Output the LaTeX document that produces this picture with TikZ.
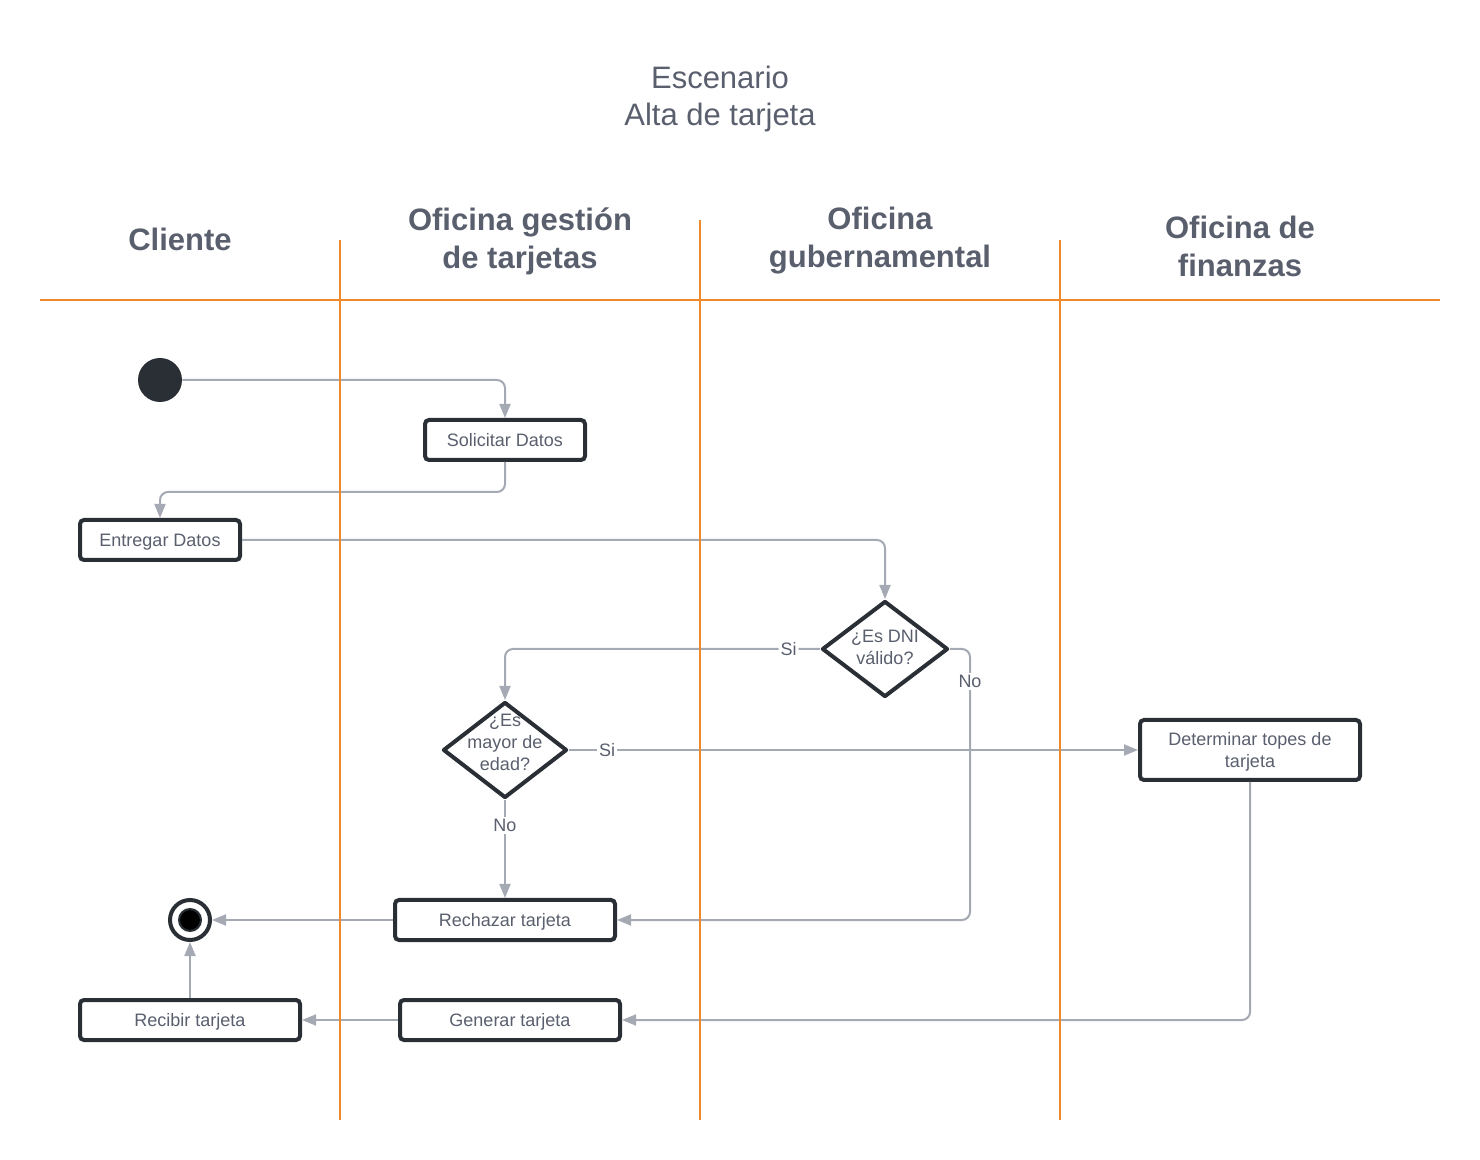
\documentclass[tikz,border=0pt]{standalone}
\usepackage{fontspec}
\setmainfont{Liberation Sans}
\usepackage{xcolor}
\usetikzlibrary{arrows.meta,shapes.geometric}

\definecolor{texto}{HTML}{5A5F6E}
\definecolor{borde}{HTML}{2A2E35}
\definecolor{linea}{HTML}{A5A9B3}
\definecolor{naranja}{HTML}{EC8A2C}

\tikzset{
  actividad/.style={draw=borde, line width=2pt, rounded corners=2pt, fill=white, text=texto,
    font=\fontsize{9}{11}\selectfont, align=center, inner sep=0pt, text depth=0pt, minimum height=20pt},
  decision/.style={diamond, draw=borde, line width=2pt, line join=round, fill=white,
    inner sep=0pt, minimum width=63pt, minimum height=48pt},
  pregunta/.style={text=texto, font=\fontsize{9}{11}\selectfont, align=center},
  flecha/.style={draw=linea, line width=1pt, rounded corners=4pt, -{Triangle[length=7pt,width=5.5pt]}},
  etiqueta/.style={fill=white, text=texto, font=\fontsize{9}{11}\selectfont, inner sep=1pt},
  carril/.style={draw=naranja, line width=1pt},
  titulo/.style={text=texto, font=\fontsize{15.5}{18.5}\selectfont, align=center},
  encabezado/.style={text=texto, font=\bfseries\fontsize{15.5}{19}\selectfont, align=center}
}

\begin{document}
\begin{tikzpicture}[x=0.5pt,y=-0.5pt]
\useasboundingbox (0,0) rectangle (1480,1160);

% titulo y carriles
\node[titulo] (titulo) at (720,99) {Escenario\\Alta de tarjeta};
\node[encabezado] (cliente) at (180,239) {Cliente};
\node[encabezado] (gestion) at (520,241) {Oficina gestión\\de tarjetas};
\node[encabezado] (gobierno) at (880,241) {Oficina\\gubernamental};
\node[encabezado] (finanzas) at (1240,246) {Oficina de\\finanzas};

% nodos
\node[circle, fill=borde, minimum size=22pt, inner sep=0pt] (inicio) at (160,380) {};
\node[actividad, minimum width=80pt] (solicitar) at (505,440) {Solicitar Datos};
\node[actividad, minimum width=80pt] (entregar) at (160,540) {Entregar Datos};
\node[decision, label={[pregunta, yshift=1pt]center:{¿Es DNI\\válido?}}] (dni) at (885,649) {};
\node[decision, minimum width=62pt, label={[pregunta, yshift=4pt]center:{¿Es\\mayor de\\edad?}}] (mayor) at (505,750) {};
\node[actividad, minimum width=110pt, minimum height=30pt] (topes) at (1250,750) {Determinar topes de\\tarjeta};
\node[actividad, minimum width=110pt] (rechazar) at (505,920) {Rechazar tarjeta};
\node[actividad, minimum width=110pt] (generar) at (510,1020) {Generar tarjeta};
\node[actividad, minimum width=110pt] (recibir) at (190,1020) {Recibir tarjeta};
\node[circle, draw=borde, line width=2pt, fill=white, minimum size=20pt, inner sep=0pt,
  path picture={\fill[black, draw=borde, line width=1pt] (path picture bounding box.center) circle (5.5pt);}] (fin) at (190,920) {};

% flechas
\draw[flecha] (inicio.east) -| (solicitar.north);
\draw[flecha] (solicitar.south) -- ++(0,30) -| (entregar.north);
\draw[flecha] (entregar.east) -| (dni.north);
\draw[flecha] (dni.west) -| node[etiqueta, pos=0.05]{Si} (mayor.north);
\draw[flecha] (dni.east) -- ++(20,0) |- node[etiqueta, pos=0.06]{No} (rechazar.east);
\draw[flecha] (mayor.east) -- node[etiqueta, pos=0.067]{Si} (topes.west);
\draw[flecha] (mayor.south) -- node[etiqueta, pos=0.26]{No} (rechazar.north);
\draw[flecha] (rechazar.west) -- (fin.east);
\draw[flecha] (topes.south) |- (generar.east);
\draw[flecha] (generar.west) -- (recibir.east);
\draw[flecha] (recibir.north) -- (fin.south);

\draw[carril] (40,300) -- (1440,300);
\foreach \x/\y in {340/240, 700/220, 1060/240}
  \draw[carril] (\x,\y) -- (\x,1120);
\end{tikzpicture}
\end{document}
